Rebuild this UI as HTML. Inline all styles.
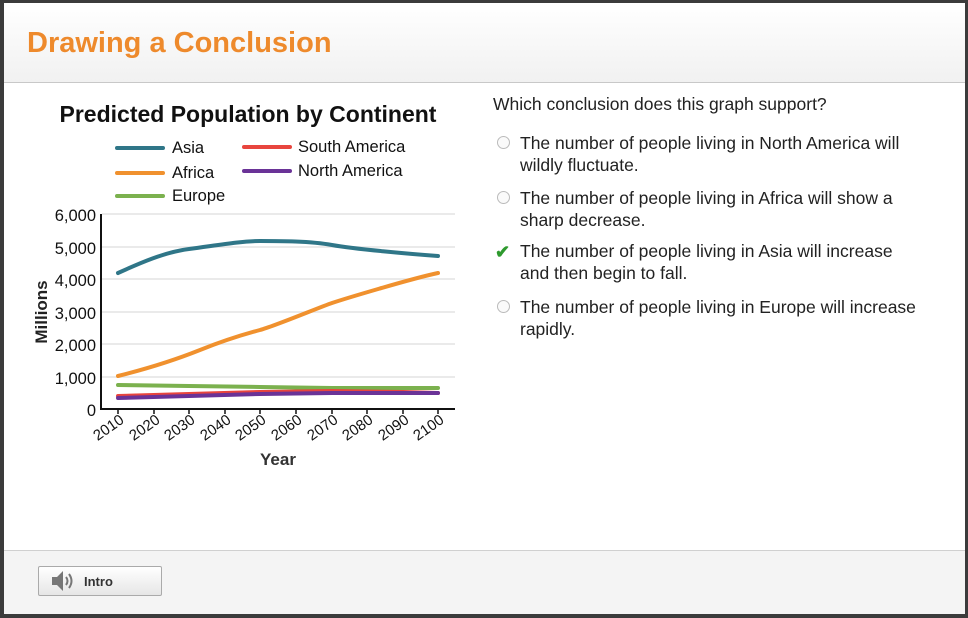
<!DOCTYPE html>
<html><head><style>
body{margin:0;width:968px;height:618px;overflow:hidden;background:#3b3b3b;font-family:"Liberation Sans",sans-serif;}
#f{position:absolute;left:4px;top:3px;width:961px;height:610px;background:#fff;}
#hd{position:absolute;left:0;top:0;width:961px;height:79px;background:linear-gradient(#fff,#f1f1f1);border-bottom:1px solid #c8c8c8;}
#hd span{position:absolute;left:23px;top:24px;font-size:29px;font-weight:bold;color:#ee8a2c;}
#ft{position:absolute;left:0;top:547px;width:961px;height:63px;background:#f4f4f4;border-top:1px solid #d0d0d0;}
#btn{position:absolute;left:34px;top:15px;width:122px;height:28px;border:1px solid #aaa;border-radius:2px;background:linear-gradient(#fff,#e6e6e6);}
#btn span{position:absolute;left:45px;top:7px;font-size:13px;font-weight:bold;color:#333;}
.q{position:absolute;font-size:17.5px;color:#222;line-height:22px;}
.r{position:absolute;width:11px;height:11px;border:1px solid #bbb;border-radius:50%;left:493px;background:#fafafa;}
</style></head><body>
<div id="f">
<div id="hd"><span>Drawing a Conclusion</span></div>
<div class="q" style="left:489px;top:90px;">Which conclusion does this graph support?</div>
<div class="r" style="top:133px"></div>
<div class="q" style="left:516px;top:129px;width:400px;">The number of people living in North America will wildly fluctuate.</div>
<div class="r" style="top:188px"></div>
<div class="q" style="left:516px;top:184px;width:400px;">The number of people living in Africa will show a sharp decrease.</div>
<div style="position:absolute;left:491px;top:239px;color:#2e9a2e;font-size:18px;font-weight:bold;">✔</div>
<div class="q" style="left:516px;top:237px;width:400px;">The number of people living in Asia will increase and then begin to fall.</div>
<div class="r" style="top:297px"></div>
<div class="q" style="left:516px;top:293px;width:425px;">The number of people living in Europe will increase rapidly.</div>
<div id="ft"><div id="btn">
<svg width="30" height="28" style="position:absolute;left:10px;top:0"><path d="M3 10h5l6-6v20l-6-6H3z" fill="#777"/><path d="M17 10q3 4 0 8M20 7q5 7 0 14" stroke="#777" stroke-width="2" fill="none"/></svg>
<span>Intro</span></div></div>
</div>
<svg width="968" height="618" style="position:absolute;left:0;top:0" font-family="Liberation Sans,sans-serif">
<text x="248" y="122" text-anchor="middle" font-size="23" font-weight="bold" fill="#111">Predicted Population by Continent</text>
<g stroke-width="4" stroke-linecap="round">
<line x1="117" y1="148" x2="163" y2="148" stroke="#2f7688"/>
<line x1="117" y1="173" x2="163" y2="173" stroke="#f0912e"/>
<line x1="117" y1="196" x2="163" y2="196" stroke="#7bb14e"/>
<line x1="244" y1="147" x2="290" y2="147" stroke="#e8453e"/>
<line x1="244" y1="171" x2="290" y2="171" stroke="#6a3397"/>
</g>
<g font-size="16.5" fill="#111">
<text x="172" y="153">Asia</text><text x="172" y="178">Africa</text><text x="172" y="201">Europe</text>
<text x="298" y="152">South America</text><text x="298" y="176">North America</text>
</g>
<g stroke="#e4e4e4" stroke-width="1.5">
<line x1="102" y1="214" x2="455" y2="214"/><line x1="102" y1="247" x2="455" y2="247"/><line x1="102" y1="279" x2="455" y2="279"/><line x1="102" y1="312" x2="455" y2="312"/><line x1="102" y1="344" x2="455" y2="344"/><line x1="102" y1="377" x2="455" y2="377"/>
</g>
<g font-size="16.5" fill="#111" text-anchor="end">
<text x="96" y="221">6,000</text><text x="96" y="254">5,000</text><text x="96" y="286">4,000</text><text x="96" y="319">3,000</text><text x="96" y="351">2,000</text><text x="96" y="384">1,000</text><text x="96" y="416">0</text>
</g>
<text transform="translate(47,312) rotate(-90)" text-anchor="middle" font-size="17" font-weight="bold" fill="#222">Millions</text>
<line x1="101" y1="214" x2="101" y2="410" stroke="#111" stroke-width="2"/>
<line x1="100" y1="409" x2="455" y2="409" stroke="#111" stroke-width="2"/>
<g stroke="#111" stroke-width="1.5">
<line x1="118" y1="409" x2="118" y2="414"/><line x1="154" y1="409" x2="154" y2="414"/><line x1="189" y1="409" x2="189" y2="414"/><line x1="225" y1="409" x2="225" y2="414"/><line x1="260" y1="409" x2="260" y2="414"/><line x1="296" y1="409" x2="296" y2="414"/><line x1="332" y1="409" x2="332" y2="414"/><line x1="367" y1="409" x2="367" y2="414"/><line x1="403" y1="409" x2="403" y2="414"/><line x1="438" y1="409" x2="438" y2="414"/>
</g>
<g font-size="15" fill="#111" text-anchor="end">
<text transform="translate(125,422) rotate(-35)">2010</text><text transform="translate(161,422) rotate(-35)">2020</text><text transform="translate(196,422) rotate(-35)">2030</text><text transform="translate(232,422) rotate(-35)">2040</text><text transform="translate(267,422) rotate(-35)">2050</text><text transform="translate(303,422) rotate(-35)">2060</text><text transform="translate(339,422) rotate(-35)">2070</text><text transform="translate(374,422) rotate(-35)">2080</text><text transform="translate(410,422) rotate(-35)">2090</text><text transform="translate(445,422) rotate(-35)">2100</text>
</g>
<text x="278" y="465" text-anchor="middle" font-size="17" font-weight="bold" fill="#333">Year</text>
<g fill="none" stroke-width="4" stroke-linecap="round" stroke-linejoin="round">
<polyline stroke="#7bb14e" points="118,385 189,386 260,387 332,388 403,388 438,388"/>
<polyline stroke="#e8453e" points="118,396 189,394 260,392 332,391 403,392 438,393"/>
<polyline stroke="#6a3397" points="118,398 189,396 260,394 332,393 403,393 438,393"/>
<path stroke="#f0912e" d="M118,376 C150,368 175,360 200,350 S245,334 260,330 S320,307 332,303 S410,279 438,273"/>
<path stroke="#2f7688" d="M118,273 C140,263 165,252 189,249 S240,241 260,241 S310,241 332,245 S410,254 438,256"/>
</g>
</svg>
</body></html>
